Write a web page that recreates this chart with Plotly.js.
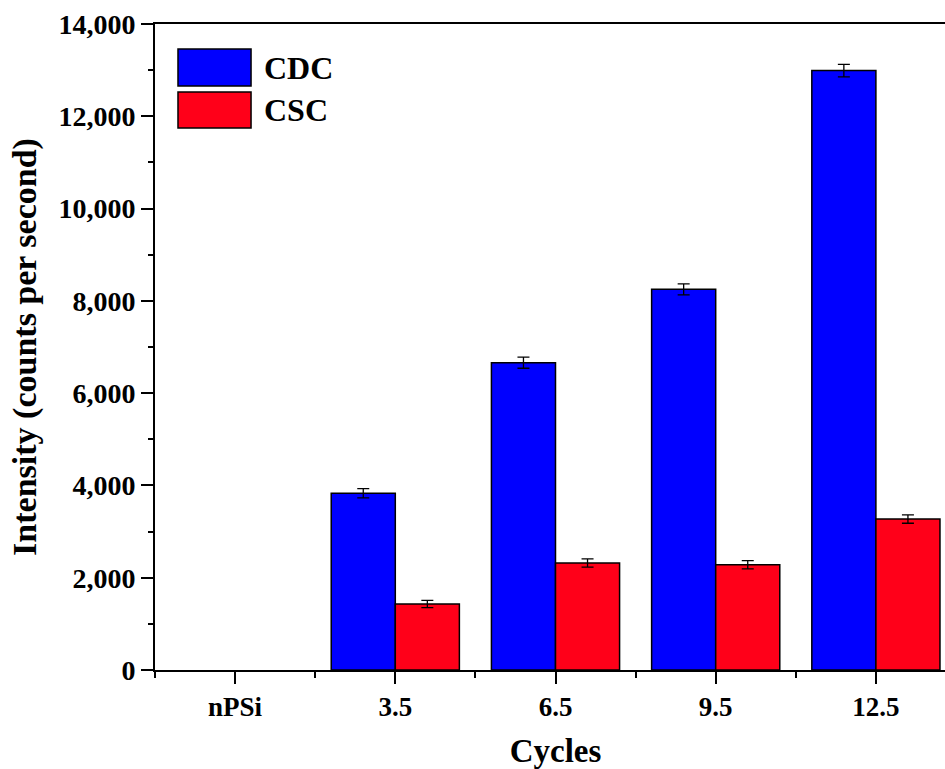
<!DOCTYPE html>
<html>
<head>
<meta charset="utf-8">
<script src="https://cdn.plot.ly/plotly-3.0.1.min.js"></script>
<style>
html, body { margin: 0; padding: 0; overflow: hidden; background: #fff; }
#chart { width: 960px; height: 769px; }
</style>
</head>
<body>
<div id="chart"></div>
<script>
const categories = ["nPSi", "3.5", "6.5", "9.5", "12.5"];
const cdcValues = [null, 3830, 6660, 8250, 12990];
const cdcErrors = [0, 100, 120, 120, 135];
const cscValues = [null, 1430, 2320, 2280, 3270];
const cscErrors = [0, 80, 90, 90, 90];
const seriesNames = ["CDC", "CSC"];

const xIdx = categories.map((_, i) => i);
const font = "'Liberation Serif', 'Times New Roman', serif";

const traces = [
  {
    type: "bar", name: seriesNames[0], x: xIdx, y: cdcValues,
    marker: { color: "#0000ff", line: { color: "#000", width: 1.5 } },
    error_y: { type: "data", array: cdcErrors, visible: true, color: "#000", thickness: 1.3, width: 6 }
  },
  {
    type: "bar", name: seriesNames[1], x: xIdx, y: cscValues,
    marker: { color: "#ff0019", line: { color: "#000", width: 1.5 } },
    error_y: { type: "data", array: cscErrors, visible: true, color: "#000", thickness: 1.3, width: 6 }
  }
];

const layout = {
  width: 960, height: 769,
  margin: { l: 155, r: 4, t: 24, b: 99 },
  paper_bgcolor: "#fff", plot_bgcolor: "#fff",
  barmode: "group", bargap: 0.2, bargroupgap: 0,
  showlegend: false,
  font: { family: font, color: "#000" },
  xaxis: {
    range: [-0.5, 4.5],
    tickmode: "array", tickvals: xIdx, ticktext: categories,
    ticks: "outside", ticklen: 12, tickwidth: 2, tickcolor: "#000",
    minor: { tickmode: "linear", tick0: 0.5, dtick: 1, ticks: "outside", ticklen: 6, tickwidth: 2, tickcolor: "#000" },
    showline: true, linewidth: 2, linecolor: "#000", mirror: true,
    showgrid: false, zeroline: false,
    tickfont: { family: font, size: 27, color: "#000", weight: "bold" },
    title: { text: "<b>Cycles</b>", font: { family: font, size: 33, color: "#000" }, standoff: 18 }
  },
  yaxis: {
    range: [0, 14000],
    tickmode: "linear", tick0: 0, dtick: 2000, tickformat: ",d",
    ticks: "outside", ticklen: 12, tickwidth: 2, tickcolor: "#000",
    minor: { tickmode: "linear", tick0: 0, dtick: 1000, ticks: "outside", ticklen: 5, tickwidth: 2, tickcolor: "#000" },
    showline: true, linewidth: 2, linecolor: "#000", mirror: true,
    showgrid: false, zeroline: false,
    tickfont: { family: font, size: 28, color: "#000", weight: "bold" },
    title: { text: "<b>Intensity (counts per second)</b>", font: { family: font, size: 34, color: "#000" }, standoff: 12 }
  },
  shapes: [
    { type: "rect", xref: "paper", yref: "paper", x0: 0.0287, x1: 0.1199, y0: 0.904, y1: 0.9613,
      fillcolor: "#0000ff", line: { color: "#000", width: 1.5 } },
    { type: "rect", xref: "paper", yref: "paper", x0: 0.0287, x1: 0.1199, y0: 0.839, y1: 0.8947,
      fillcolor: "#ff0019", line: { color: "#000", width: 1.5 } }
  ],
  annotations: [
    { xref: "paper", yref: "paper", x: 0.1335, y: 0.932, xanchor: "left", yanchor: "middle",
      text: "<b>" + seriesNames[0] + "</b>", showarrow: false, font: { family: font, size: 32, color: "#000" } },
    { xref: "paper", yref: "paper", x: 0.1335, y: 0.867, xanchor: "left", yanchor: "middle",
      text: "<b>" + seriesNames[1] + "</b>", showarrow: false, font: { family: font, size: 32, color: "#000" } }
  ]
};

Plotly.newPlot("chart", traces, layout, { displayModeBar: false, staticPlot: true });
</script>
</body>
</html>
